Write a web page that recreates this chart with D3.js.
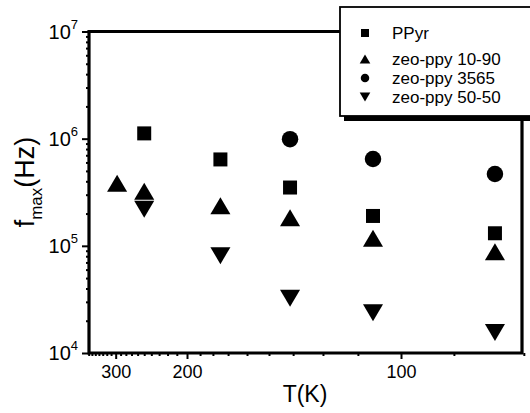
<!DOCTYPE html>
<html><head><meta charset="utf-8">
<script src="https://cdn.jsdelivr.net/npm/d3@7"></script>
<style>body{margin:0;background:#fff} svg{display:block} text{font-family:Arial,"Liberation Sans",sans-serif;fill:#000}</style>
</head><body><svg width="530" height="413"></svg>
<script>
// ---- data ----
const temps = [297, 250, 173, 135, 107, 82];               // T (K)
const seriesNames = ["PPyr", "zeo-ppy 10-90", "zeo-ppy 3565", "zeo-ppy 50-50"];
const ppyr    = [null, 1.12e6, 6.4e5, 3.5e5, 1.9e5, 1.31e5];
const zeo1090 = [3.84e5, 3.23e5, 2.36e5, 1.83e5, 1.18e5, 8.8e4];
const zeo3565 = [null, null, null, 9.9e5, 6.46e5, 4.68e5];
const zeo5050 = [null, 2.2e5, 8.1e4, 3.25e4, 2.38e4, 1.55e4];
const xMajorTicks = [300, 200, 100];
const xMinorTicks = [370, 360, 350, 340, 330, 320, 310, 290, 280, 270, 260, 250, 240, 230, 220, 210,
                     188.5, 178.4, 167.8, 156.2, 144.6, 133.7, 122.3, 111.2, 89, 77.7];
const yMajorTicks = [1e4, 1e5, 1e6, 1e7];
const yMinorTicks = [];
[1e4, 1e5, 1e6].forEach(d => { for (let k = 2; k <= 9; k++) yMinorTicks.push(d * k); });

const svg = d3.select("svg");
const L = 89, R = 522, T = 31.5, B = 353;
const x = d3.scaleLinear().domain([1 / 369, 1 / 77.96]).range([L, R]);
const y = d3.scaleLog().domain([1e4, 1e7]).range([B, T]);
const X = t => x(1 / t);

// ---- ticks ----
const xAxisMinor = d3.axisBottom(x).tickValues(xMinorTicks.map(t => 1 / t)).tickSize(3).tickFormat("");
const xAxisMajor = d3.axisBottom(x).tickValues(xMajorTicks.map(t => 1 / t)).tickSize(6)
  .tickFormat(v => Math.round(1 / v)).tickPadding(6);
const gxm = svg.append("g").attr("transform", `translate(0,${B})`).call(xAxisMinor);
const gxM = svg.append("g").attr("transform", `translate(0,${B})`).call(xAxisMajor);
[gxm, gxM].forEach(g => { g.select(".domain").remove(); g.selectAll("line").attr("stroke", "#000").attr("stroke-width", 2); });
gxM.selectAll("text").attr("font-size", 18).attr("font-family", "Arial, 'Liberation Sans'").attr("fill", "#000");

const yAxisMinor = d3.axisLeft(y).tickValues(yMinorTicks).tickSize(3).tickFormat("");
const yAxisMajor = d3.axisLeft(y).tickValues(yMajorTicks).tickSize(7).tickFormat("");
const gym = svg.append("g").attr("transform", `translate(${L},0)`).call(yAxisMinor);
const gyM = svg.append("g").attr("transform", `translate(${L},0)`).call(yAxisMajor);
[gym, gyM].forEach(g => { g.select(".domain").remove(); g.selectAll("line").attr("stroke", "#000").attr("stroke-width", 2); });

// y tick labels 10^n
yMajorTicks.forEach(v => {
  const t = svg.append("text").attr("x", 78).attr("y", y(v) + 7).attr("text-anchor", "end").attr("font-size", 20);
  t.append("tspan").text("10");
  t.append("tspan").attr("dy", -10).attr("font-size", 13).text(Math.round(Math.log10(v)));
});

// frame
svg.append("path").attr("fill", "none").attr("stroke", "#000").attr("stroke-width", 3.2)
  .attr("d", `M${L},${T}H${R}V${B}H${L}Z`);

// axis titles
svg.append("text").attr("x", 305).attr("y", 402).attr("text-anchor", "middle").attr("font-size", 23).text("T(K)");
const yt = svg.append("text").attr("transform", "translate(34,182) rotate(-90)").attr("text-anchor", "middle").attr("font-size", 27);
yt.append("tspan").text("f");
yt.append("tspan").attr("dy", 8).attr("font-size", 17).text("max");
yt.append("tspan").attr("dy", -8).text("(Hz)");

// ---- markers ----
function shape(type, s) {
  if (type === "square") return `M${-s / 2},${-s / 2}h${s}v${s}h${-s}Z`;
  if (type === "circle") { const r = s / 2; return `M${r},0A${r},${r} 0 1,1 ${-r},0A${r},${r} 0 1,1 ${r},0Z`; }
  const w = s * 1.18, h = s;
  if (type === "up") return `M0,${-h / 2}L${w / 2},${h / 2}L${-w / 2},${h / 2}Z`;
  return `M0,${h / 2}L${w / 2},${-h / 2}L${-w / 2},${-h / 2}Z`;
}
const series = [
  { name: seriesNames[0], vals: ppyr, type: "square", size: 14, lsize: 8 },
  { name: seriesNames[1], vals: zeo1090, type: "up", size: 17, lsize: 9 },
  { name: seriesNames[2], vals: zeo3565, type: "circle", size: 16.5, lsize: 8.5 },
  { name: seriesNames[3], vals: zeo5050, type: "down", size: 17, lsize: 9 }
];
series.forEach(s => {
  svg.append("g").selectAll("path")
    .data(temps.map((t, i) => ({ t, v: s.vals[i] })).filter(d => d.v != null))
    .join("path")
    .attr("transform", d => `translate(${X(d.t)},${y(d.v)})`)
    .attr("d", shape(s.type, s.size)).attr("fill", "#000");
});

// ---- legend ----
const lg = svg.append("g");
lg.append("rect").attr("x", 344).attr("y", 12).attr("width", 200).attr("height", 109).attr("fill", "#000");
lg.append("rect").attr("x", 340).attr("y", 7).attr("width", 200).attr("height", 109)
  .attr("fill", "#fff").attr("stroke", "#000").attr("stroke-width", 1.8);
const ly = [33, 59, 78, 97];
series.forEach((s, i) => {
  lg.append("path").attr("transform", `translate(365,${ly[i]})`).attr("d", shape(s.type, s.lsize)).attr("fill", "#000");
  lg.append("text").attr("x", 392).attr("y", ly[i] + 6).attr("font-size", 17).text(s.name);
});
</script></body></html>
